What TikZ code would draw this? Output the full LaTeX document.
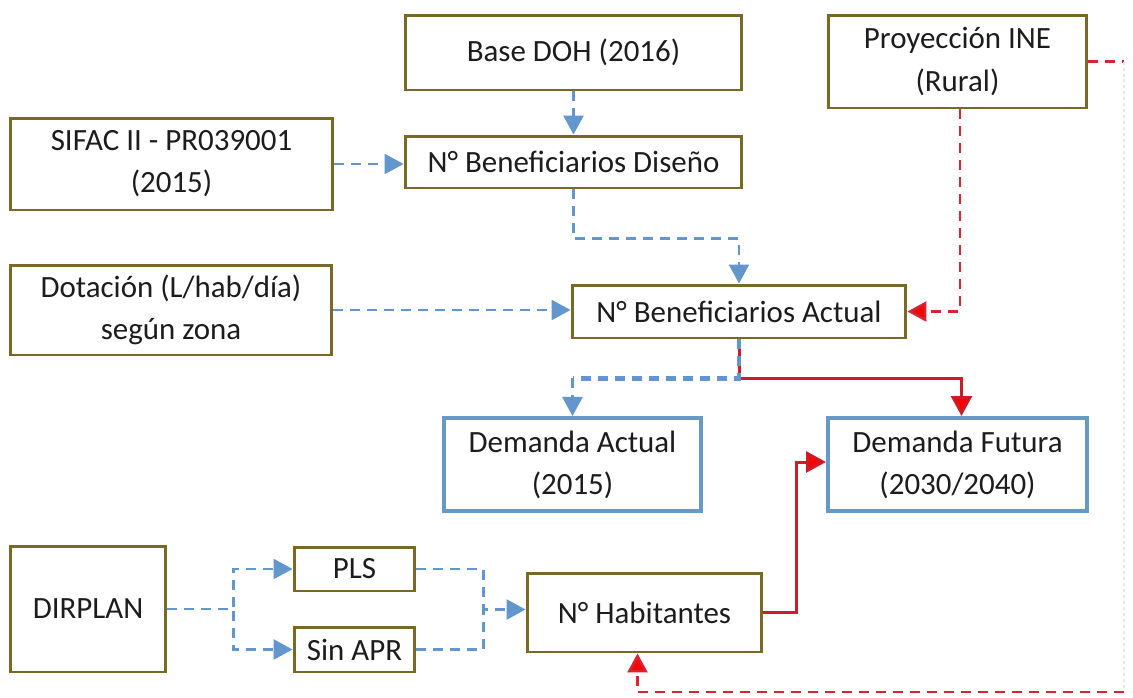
\documentclass[tikz,border=0pt]{standalone}
\usepackage{fontspec}
\setmainfont{Carlito}
\usetikzlibrary{arrows.meta}
\definecolor{olive}{RGB}{122,104,38}
\definecolor{boxblue}{RGB}{104,152,200}
\definecolor{dashblue}{RGB}{98,150,204}
\definecolor{dashred}{RGB}{214,36,48}
\definecolor{solidred}{RGB}{205,28,38}
\definecolor{faintred}{RGB}{236,226,228}
\definecolor{txt}{RGB}{28,28,28}
\tikzset{
  obox/.style={draw=olive, line width=1.7pt, fill=white, inner sep=0pt, align=center,
    text=txt, font=\fontsize{17.6}{24}\selectfont},
  bbox/.style={obox, draw=boxblue, line width=2.3pt},
  bluedash/.style={draw=dashblue, line width=1.5pt, dash pattern=on 0.2cm off 0.14cm,
    -{Triangle[length=0.38cm,width=0.4cm,fill=dashblue]}},
  bluedashplain/.style={draw=dashblue, line width=1.5pt, dash pattern=on 0.2cm off 0.14cm},
  reddash/.style={draw=dashred, line width=1.5pt, dash pattern=on 0.2cm off 0.14cm,
    -{Triangle[length=0.38cm,width=0.4cm,fill=red]}},
  reddashplain/.style={draw=dashred, line width=1.5pt, dash pattern=on 0.2cm off 0.14cm},
  redsolid/.style={draw=solidred, line width=1.7pt,
    -{Triangle[length=0.4cm,width=0.42cm,fill=red]}},
}
\begin{document}
\begin{tikzpicture}[x=0.02cm,y=-0.02cm]
\useasboundingbox[fill=white] (0,0) rectangle (1133,697);

\node[obox, minimum width=6.74cm, minimum height=1.5cm] (doh) at (573.5,52.5) {Base DOH (2016)};
\node[obox, minimum width=5.18cm, minimum height=1.86cm] (ine) at (957.5,61.5) {Proyección INE\\(Rural)};
\node[obox, minimum width=6.46cm, minimum height=1.84cm] (sifac) at (171.5,164) {SIFAC II - PR039001\\(2015)};
\node[obox, minimum width=6.74cm, minimum height=1.04cm] (dis) at (573.5,162) {N° Beneficiarios Diseño};
\node[obox, minimum width=6.44cm, minimum height=1.8cm] (dot) at (171,310) {Dotación (L/hab/día)\\según zona};
\node[obox, minimum width=6.68cm, minimum height=1.06cm] (act) at (739,311.5) {N° Beneficiarios Actual};
\node[bbox, minimum width=5.14cm, minimum height=1.86cm] (dema) at (572.5,464.5) {Demanda Actual\\(2015)};
\node[bbox, minimum width=5.18cm, minimum height=1.86cm] (demf) at (957.5,464.5) {Demanda Futura\\(2030/2040)};
\node[obox, minimum width=3.12cm, minimum height=2.52cm] (dir) at (88,609) {DIRPLAN};
\node[obox, minimum width=2.42cm, minimum height=0.88cm] (pls) at (354.5,569) {PLS};
\node[obox, minimum width=2.42cm, minimum height=0.9cm] (sin) at (354.5,649.5) {Sin APR};
\node[obox, minimum width=4.7cm, minimum height=1.58cm] (hab) at (644.5,612.5) {N° Habitantes};

% blue dashed connectors
\draw[bluedash] (doh.south) -- (dis.north);
\draw[bluedash] (sifac.east) -- (sifac.east -| dis.west);
\draw[bluedash] (dis.south) -- ++(0,49) -| (act.north);
\draw[bluedash] (dot.east) -- (dot.east -| act.west);

% red from actual to future demand (drawn first)
\draw[redsolid] (act.south) -- ++(0,39) -| ([xshift=0.08cm]demf.north);
\draw[bluedashplain, line width=2.8pt] (act.south) -- ++(0,39) coordinate (split) -- (split -| dema.north) coordinate (splitl);
\draw[bluedash] (splitl) -- (dema.north);

% INE projection
\draw[reddash] ([xshift=0.05cm]ine.south) |- (act.east);
\coordinate (ir) at (1124,61.5);
\coordinate (br) at (1124,692);
\draw[reddashplain] (ine.east) -- (ir);
\draw[faintred, line width=1.2pt, dash pattern=on 0.06cm off 0.06cm] (ir) -- (br);
\draw[reddash] (br) -| ([xshift=-0.14cm]hab.south);

% DIRPLAN branch
\draw[bluedash] (dir.east) -- ++(66,0) |- (pls.west);
\draw[bluedash] (dir.east) -- ++(66,0) |- (sin.west);
\draw[bluedashplain] (pls.east) -- ++(67,0) |- ([yshift=0.06cm]hab.west);
\draw[bluedash] (sin.east) -- ++(67,0) |- ([yshift=0.06cm]hab.west);

% habitantes to future demand
\draw[redsolid] (hab.east) -- ++(33,0) |- ([yshift=0.05cm]demf.west);
\end{tikzpicture}
\end{document}
